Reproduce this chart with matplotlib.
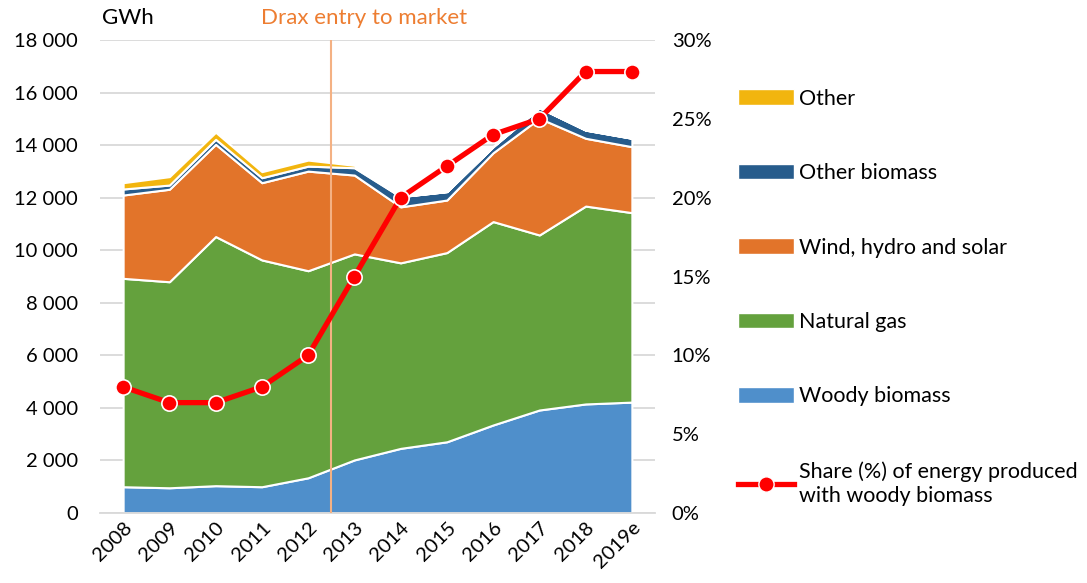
import matplotlib
matplotlib.use("Agg")
import matplotlib.pyplot as plt
import numpy as np
from matplotlib.patches import Patch
from matplotlib.lines import Line2D
from matplotlib.ticker import FuncFormatter

plt.rcParams['font.family'] = ['Lato', 'DejaVu Sans']

years = ['2008', '2009', '2010', '2011', '2012', '2013', '2014', '2015', '2016', '2017', '2018', '2019e']
woody_biomass = [1000, 960, 1040, 1000, 1340, 2020, 2460, 2710, 3350, 3920, 4150, 4220]
natural_gas = [7930, 7840, 9480, 8630, 7880, 7840, 7060, 7200, 7740, 6660, 7530, 7210]
wind_hydro_solar = [3170, 3520, 3510, 2940, 3790, 3000, 2130, 2000, 2620, 4440, 2580, 2510]
other_biomass = [230, 160, 190, 190, 190, 280, 390, 320, 230, 400, 310, 320]
other = [240, 320, 270, 230, 230, 90, 0, 0, 0, 0, 0, 0]
share_pct = [8, 7, 7, 8, 10, 15, 20, 22, 24, 25, 28, 28]
y_ticks = [0, 2000, 4000, 6000, 8000, 10000, 12000, 14000, 16000, 18000]
pct_ticks = [0, 5, 10, 15, 20, 25, 30]

c_woody = '#4F8FCB'
c_gas = '#64A13D'
c_wind = '#E2742A'
c_ob = '#275C8C'
c_other = '#F2B50E'
c_red = '#FF0000'

fs_tick = 14.5

fig = plt.figure(figsize=(10.87, 5.83), dpi=100)
ax = fig.add_axes([100/1087, 1-513/583, 555/1087, 473/583])
x = np.arange(len(years))

ax.stackplot(x, woody_biomass, natural_gas, wind_hydro_solar, other_biomass, other,
             colors=[c_woody, c_gas, c_wind, c_ob, c_other],
             edgecolor='white', linewidth=1.5, zorder=2)
ax.set_xlim(-0.5, len(years) - 0.5)
ax.set_ylim(0, 18000)
ax.set_yticks(y_ticks)
ax.yaxis.set_major_formatter(FuncFormatter(lambda v, p: f"{int(v):,}".replace(',', ' ')))
ax.grid(axis='y', color='#D9D9D9', linewidth=1.3, zorder=0)
ax.set_axisbelow(True)
for s in ['top', 'right', 'left']:
    ax.spines[s].set_visible(False)
ax.spines['bottom'].set_color('#D9D9D9')
ax.spines['bottom'].set_linewidth(1.3)
ax.tick_params(axis='y', length=0, labelsize=fs_tick, pad=16)
ax.tick_params(axis='x', length=0, labelsize=fs_tick, pad=4)
ax.set_xticks(x)
ax.set_xticklabels(years, rotation=45, ha='right', rotation_mode='anchor')

# Drax line
ax.axvline(4.5, color='#F4B183', linewidth=1.5, zorder=3)
ax.text(4.5 + 0.7, 18000 + 450, 'Drax entry to market', color='#ED7D31',
        fontsize=16, ha='center', va='bottom')
ax.text(-0.46, 18000 + 450, 'GWh', color='black', fontsize=16, ha='left', va='bottom')

ax2 = ax.twinx()
ax2.set_ylim(0, 30)
ax2.set_yticks(pct_ticks)
ax2.yaxis.set_major_formatter(FuncFormatter(lambda v, p: f"{int(v)}%"))
ax2.tick_params(axis='y', length=0, labelsize=fs_tick, pad=12)
for s in ax2.spines.values():
    s.set_visible(False)
ax2.plot(x, share_pct, color=c_red, linewidth=3.8, marker='o', markersize=11,
         markerfacecolor=c_red, markeredgecolor='white', markeredgewidth=1.2, zorder=5)

handles = [
    Patch(facecolor=c_other, edgecolor='white', label='Other'),
    Patch(facecolor=c_ob, edgecolor='white', label='Other biomass'),
    Patch(facecolor=c_wind, edgecolor='white', label='Wind, hydro and solar'),
    Patch(facecolor=c_gas, edgecolor='white', label='Natural gas'),
    Patch(facecolor=c_woody, edgecolor='white', label='Woody biomass'),
    Line2D([0], [0], color=c_red, linewidth=3.8, marker='o', markersize=11,
           markerfacecolor=c_red, markeredgecolor='white',
           label='Share (%) of energy produced\nwith woody biomass'),
]
leg = fig.legend(handles=handles, loc='upper left', bbox_to_anchor=(729/1087, 1-80/583),
                 frameon=False, fontsize=15.5, handlelength=2.6, handleheight=0.72,
                 labelspacing=2.53, handletextpad=0.25, borderaxespad=0)
for t in leg.get_texts():
    t.set_linespacing(1.3)

fig.savefig('out.png', dpi=100)
